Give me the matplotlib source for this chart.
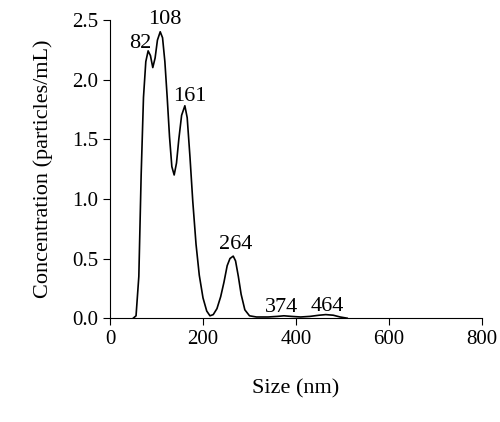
import matplotlib.pyplot as plt
import numpy as np

# size distribution
size = np.array([50, 56, 62, 67, 72, 77, 82, 87, 92, 97, 102, 108, 113, 118,
                 123, 128, 133, 138, 143, 148, 154, 161, 166, 172, 178, 185,
                 192, 200, 208, 215, 222, 230, 238, 245, 252, 258, 265, 270,
                 276, 282, 290, 300, 315, 340, 360, 374, 390, 410, 430, 450,
                 464, 480, 495, 510])
conc = np.array([0.0, 0.02, 0.35, 1.2, 1.85, 2.15, 2.24, 2.2, 2.1, 2.18, 2.33,
                 2.4, 2.35, 2.15, 1.85, 1.52, 1.27, 1.2, 1.3, 1.5, 1.7, 1.78,
                 1.68, 1.35, 0.98, 0.62, 0.36, 0.17, 0.06, 0.02, 0.03, 0.08, 0.18,
                 0.3, 0.44, 0.5, 0.52, 0.48, 0.35, 0.2, 0.07, 0.02, 0.01, 0.01,
                 0.015, 0.02, 0.015, 0.01, 0.015, 0.025, 0.03, 0.025, 0.01, 0.0])

peak_labels = ["82", "108", "161", "264", "374", "464"]
label_x = [65, 118, 172, 270, 370, 468]
label_y = [2.22, 2.42, 1.78, 0.54, 0.01, 0.02]

plt.rcParams['font.family'] = ['Liberation Serif', 'DejaVu Serif']

fig = plt.figure(figsize=(5, 4.22), dpi=100)
ax = fig.add_axes([0.22, 0.246, 0.744, 0.707])
ax.plot(size, conc, color='black', linewidth=1.2)

for lab, x, y in zip(peak_labels, label_x, label_y):
    ax.text(x, y, lab, ha='center', va='bottom', fontsize=16)

ax.set_xlim(0, 800)
ax.set_ylim(0, 2.5)
ax.set_xticks([0, 200, 400, 600, 800])
ax.set_yticks([0.0, 0.5, 1.0, 1.5, 2.0, 2.5])
ax.set_yticklabels(["0.0", "0.5", "1.0", "1.5", "2.0", "2.5"])
ax.tick_params(labelsize=15, direction='out', length=5)
ax.spines['top'].set_visible(False)
ax.spines['right'].set_visible(False)
ax.set_xlabel("Size (nm)", fontsize=16, labelpad=22)
ax.set_ylabel("Concentration (particles/mL)", fontsize=16, labelpad=14)

fig.savefig("out.png")
